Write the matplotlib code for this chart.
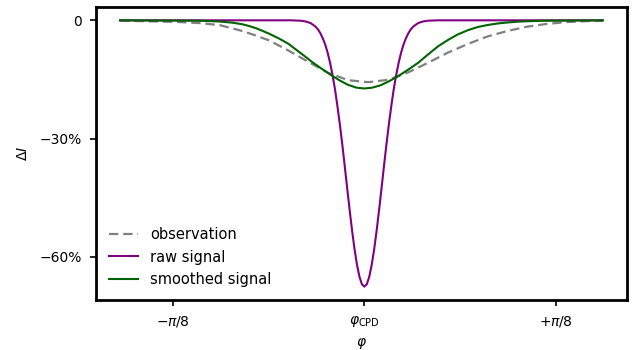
import numpy as np
import matplotlib
matplotlib.use("Agg")
import matplotlib.pyplot as plt
from matplotlib.ticker import FuncFormatter

# =======================================================
# DATA (phase offset from phi_CPD in rad, intensity change in %)
# =======================================================
raw_phi = [-0.50, -0.20, -0.15, -0.13, -0.12, -0.11, -0.10, -0.095, -0.09, -0.085,
           -0.08, -0.075, -0.07, -0.065, -0.06, -0.055, -0.05, -0.045, -0.04, -0.035,
           -0.03, -0.025, -0.02, -0.015, -0.01, -0.005, 0.0,
           0.005, 0.01, 0.015, 0.02, 0.025, 0.03, 0.035, 0.04, 0.045, 0.05,
           0.055, 0.06, 0.065, 0.07, 0.075, 0.08, 0.085, 0.09, 0.095, 0.10,
           0.11, 0.12, 0.13, 0.15, 0.20, 0.488]
raw_dI = [0.0, 0.0, 0.0, -0.1, -0.3, -0.7, -1.6, -2.3, -3.3, -4.6,
          -6.2, -8.3, -10.9, -14.0, -17.6, -21.9, -26.6, -31.7, -37.2, -42.8,
          -48.3, -53.5, -58.2, -62.1, -65.1, -67.0, -67.6,
          -67.0, -65.1, -62.1, -58.2, -53.5, -48.3, -42.8, -37.2, -31.7, -26.6,
          -21.9, -17.6, -14.0, -10.9, -8.3, -6.2, -4.6, -3.3, -2.3, -1.6,
          -0.7, -0.3, -0.1, 0.0, 0.0, 0.0]

smooth_phi = [-0.500, -0.338, -0.297, -0.270, -0.250, -0.236, -0.222, -0.208, -0.195,
              -0.175, -0.155, -0.134, -0.120, -0.108, -0.085, -0.067, -0.050, -0.033,
              -0.016, 0.0, 0.016, 0.033, 0.050, 0.069, 0.090, 0.110, 0.130, 0.151,
              0.171, 0.191, 0.212, 0.232, 0.252, 0.273, 0.293, 0.313, 0.340, 0.374, 0.488]
smooth_dI = [0.0, -0.1, -0.3, -0.6, -1.0, -1.45, -2.0, -2.7, -3.4,
             -4.6, -6.0, -8.0, -9.3, -10.5, -12.5, -14.0, -15.3, -16.4,
             -17.1, -17.3, -17.1, -16.5, -15.5, -14.2, -12.5, -10.8, -8.7, -6.6,
             -5.0, -3.6, -2.5, -1.7, -1.2, -0.8, -0.55, -0.35, -0.2, -0.1, 0.0]

obs_phi = [-0.500, -0.425, -0.385, -0.338, -0.297, -0.256, -0.226, -0.195, -0.155,
           -0.114, -0.073, -0.033, 0.008, 0.049, 0.090, 0.130, 0.171, 0.212, 0.252,
           0.293, 0.334, 0.374, 0.415, 0.456, 0.488]
obs_dI = [-0.1, -0.3, -0.4, -0.7, -1.2, -2.5, -3.7, -5.1, -7.7,
          -10.6, -13.4, -15.2, -15.7, -15.1, -13.2, -10.8, -8.2, -6.0, -4.1,
          -2.7, -1.6, -0.9, -0.45, -0.2, -0.1]

x_ticks = [-np.pi / 8, 0.0, np.pi / 8]
x_ticklabels = [r"$-\pi/8$", r"$\varphi_\mathrm{CPD}$", r"$+\pi/8$"]
y_ticks = [0, -30, -60]

# =======================================================
# Plot
# =======================================================
fig = plt.figure(figsize=(6.38, 3.5), dpi=100)
ax = fig.add_axes([0.1505, 0.143, 0.832, 0.837])

ax.plot(obs_phi, obs_dI, color="gray", ls="--", lw=1.6, dashes=(4.2, 2.2), label="observation")
ax.plot(raw_phi, raw_dI, color="purple", lw=1.5, label="raw signal")
ax.plot(smooth_phi, smooth_dI, color="darkgreen", lw=1.5, label="smoothed signal")

ax.set_xticks(x_ticks)
ax.set_xticklabels(x_ticklabels)
ax.set_yticks(y_ticks)
ax.yaxis.set_major_formatter(FuncFormatter(lambda v, _: "0" if v == 0 else f"\u2212{abs(v):.0f}%"))
ax.tick_params(length=4, width=1.2, pad=6)

ax.set_xlabel(r"$\varphi$", labelpad=5)
ax.set_ylabel(r"$\Delta I$", labelpad=7)

for s in ax.spines.values():
    s.set_linewidth(2.0)

ax.legend(loc="lower left", frameon=False, fontsize=10.5)

fig.savefig("out.png", dpi=100)
